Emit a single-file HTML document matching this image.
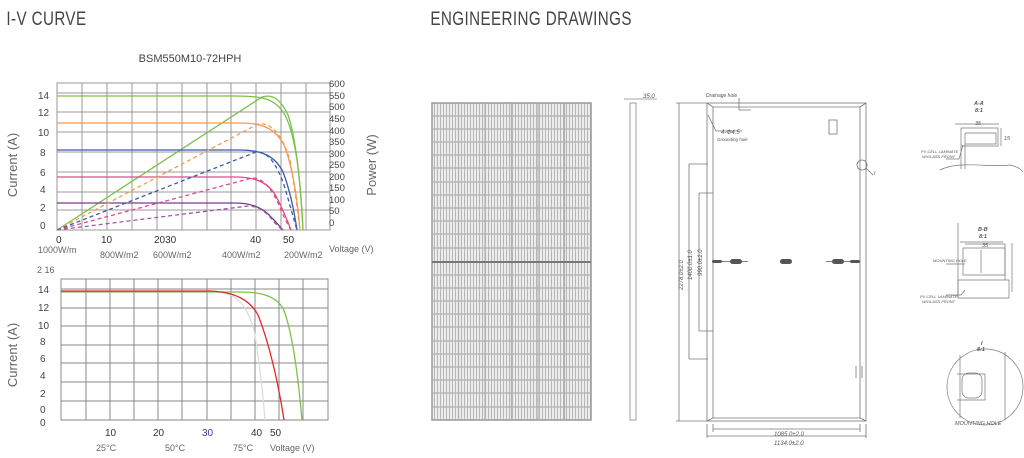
<!DOCTYPE html>
<html><head><meta charset="utf-8"><style>
body{margin:0;background:#fff;width:1024px;height:458px;overflow:hidden}
svg{display:block;font-family:"Liberation Sans",sans-serif}
</style></head><body>
<svg width="1024" height="458" viewBox="0 0 1024 458" xmlns="http://www.w3.org/2000/svg">
<defs>
<pattern id="st" width="3" height="13.2" patternUnits="userSpaceOnUse" x="432" y="103">
<rect width="3" height="13.2" fill="#ececec"/><rect x="2" width="1" height="13.2" fill="#b8b8b8"/>
</pattern>
</defs>
<!-- titles -->
<text x="8" y="25" font-size="19" fill="#444" transform="scale(0.8,1)" style="letter-spacing:0.5px">I-V CURVE</text>
<text x="538" y="25" font-size="19" fill="#444" transform="scale(0.8,1)" style="letter-spacing:0.5px">ENGINEERING DRAWINGS</text>
<text x="190" y="62" font-size="11" fill="#444" text-anchor="middle">BSM550M10-72HPH</text>

<!-- TOP CHART -->
<g stroke="#9a9a9a" stroke-width="1">
<rect x="57" y="83" width="273" height="147" fill="none"/>
<path d="M82 83V230M107 83V230M132 83V230M157 83V230M182 83V230M207 83V230M231 83V230M256 83V230M281 83V230M306 83V230"/>
<path d="M57 93H330M57 112H330M57 132H330M57 152H330M57 172H330M57 192H330M57 210H330"/>
</g>
<g font-size="10" fill="#444">
<text x="38" y="99">14</text><text x="38" y="116">12</text><text x="38" y="136">10</text><text x="40" y="156">8</text><text x="40" y="176">6</text><text x="40" y="193">4</text><text x="40" y="211">2</text><text x="40" y="229">0</text>
</g>
<g font-size="9.5" fill="#444">
<text x="329" y="87">600</text><text x="329" y="99">550</text><text x="329" y="110">500</text><text x="329" y="122">450</text><text x="329" y="134">400</text><text x="329" y="145">350</text><text x="329" y="157">300</text><text x="329" y="168">250</text><text x="329" y="180">200</text><text x="329" y="191">150</text><text x="329" y="203">100</text><text x="329" y="214">50</text><text x="329" y="226">0</text>
</g>
<text transform="translate(17,165) rotate(-90)" font-size="13" fill="#666" text-anchor="middle">Current (A)</text>
<text transform="translate(376,165) rotate(-90)" font-size="13" fill="#666" text-anchor="middle">Power (W)</text>
<g font-size="10" fill="#333">
<text x="56" y="243">0</text><text x="101" y="243">10</text><text x="154" y="243">2030</text><text x="250" y="243">40</text><text x="283" y="243">50</text>
</g>
<g font-size="9" fill="#666">
<text x="329" y="252">Voltage (V)</text>
<text x="38" y="253">1000W/m</text><text x="100" y="258">800W/m2</text><text x="153" y="258">600W/m2</text><text x="222" y="258">400W/m2</text><text x="284" y="258">200W/m2</text>
<text x="37" y="273">2 16</text>
</g>
<g fill="none" stroke-width="1.3">
<path d="M57 96H235C262 96 275 98 285 115C295 135 300 170 303 230" stroke="#7cc24a"/>
<path d="M57 230L262 97C272 94 280 98 288 115C295 135 300 175 303 230" stroke="#7cc24a"/>
<path d="M57 123H240C262 123 275 128 284 145C292 165 297 195 300 230" stroke="#f39a4c"/>
<path d="M57 150H240C262 150 275 156 283 172C290 190 294 210 297 230" stroke="#3a5ba8"/>
<path d="M57 177H235C258 177 270 184 277 198C284 212 288 222 291 230" stroke="#e04a8a"/>
<path d="M57 203H235C255 203 265 210 272 218C278 224 281 228 283 230" stroke="#7a3a8a"/>
<g stroke-dasharray="4 3">
<path d="M57 230L258 124C272 122 282 135 290 160C295 190 298 215 300 230" stroke="#f39a4c"/>
<path d="M57 230L256 152C268 151 277 165 284 185C290 205 294 220 297 230" stroke="#3a5ba8"/>
<path d="M57 230L252 178C264 178 272 190 279 205C284 218 288 225 291 230" stroke="#e04a8a"/>
<path d="M57 230L248 206C260 206 268 214 274 222C279 227 281 229 283 230" stroke="#9a5aa8"/>
</g>
</g>

<!-- BOTTOM CHART -->
<g stroke="#888" stroke-width="1">
<rect x="61" y="279" width="267" height="141" fill="none"/>
<path d="M86 279V420M110 279V420M134 279V420M158 279V420M182 279V420M207 279V420M231 279V420M255 279V420M279 279V420M303 279V420"/>
<path d="M61 289H328M61 308H328M61 326H328M61 345H328M61 363H328M61 382H328M61 401H328"/>
</g>
<g font-size="10" fill="#444">
<text x="38" y="293">14</text><text x="38" y="311">12</text><text x="38" y="329">10</text><text x="40" y="345">8</text><text x="40" y="362">6</text><text x="40" y="379">4</text><text x="40" y="397">2</text><text x="40" y="413">0</text><text x="40" y="426">0</text>
</g>
<text transform="translate(17,355) rotate(-90)" font-size="13" fill="#666" text-anchor="middle">Current (A)</text>
<g font-size="10" fill="#333">
<text x="105" y="436">10</text><text x="153" y="436">20</text><text x="202" y="436" fill="#3a3aa8">30</text><text x="251" y="436">40</text><text x="270" y="436">50</text>
</g>
<g font-size="9" fill="#666">
<text x="96" y="451">25°C</text><text x="165" y="451">50°C</text><text x="233" y="451">75°C</text><text x="270" y="451">Voltage (V)</text>
</g>
<g fill="none" stroke-width="1.3">
<path d="M207 291C235 292 245 300 254 330C260 365 263 395 265 420" stroke="#ddd"/>
<path d="M61 292H240C262 292 275 296 283 308C292 330 298 375 302 420" stroke="#7cc24a"/>
<path d="M61 291H210C235 292 250 300 258 315C268 340 278 380 284 420" stroke="#e02a2a"/>
</g>

<!-- PANEL FRONT -->
<rect x="432" y="103" width="159" height="317" fill="url(#st)" stroke="#999" stroke-width="1.5"/>
<g stroke="#b0b0b0" stroke-width="1.2">
<path d="M458.5 103V420M485 103V420M511.5 103V420M538 103V420M564.5 103V420"/>
<path d="M432 116H591M432 129H591M432 142H591M432 155H591M432 168H591M432 182H591M432 195H591M432 208H591M432 221H591M432 234H591M432 248H591M432 275H591M432 288H591M432 301H591M432 314H591M432 327H591M432 341H591M432 354H591M432 367H591M432 380H591M432 393H591M432 407H591"/>
</g>
<path d="M432 262H591" stroke="#777" stroke-width="2"/>

<!-- SIDE -->
<g fill="none" stroke="#888" stroke-width="0.8">
<rect x="630" y="103" width="6" height="317"/>
<path d="M624 99H640M636 99L657 99"/>
</g>
<text x="643" y="98" font-size="6" fill="#555" font-style="italic">35.0</text>

<!-- BACK VIEW -->
<g fill="none" stroke="#777" stroke-width="0.8">
<rect x="707" y="103" width="159" height="318"/>
<path d="M713 107V418H860V107M713 107L860 107"/>
<path d="M707 103L713 107M866 103L860 107M707 421L713 418M866 421L860 418"/>
<path d="M679 103V421M676 103H707M676 421H707"/>
<path d="M689 164V359M689 164H708M689 359H708M699 193V331M699 193H713M699 331H713"/>
<path d="M707 424V438M866 424V438M713 424V432M860 424V432M713 429H860M707 436H866"/>
<rect x="829" y="120" width="8" height="14"/>
<circle cx="862" cy="165" r="5"/>
<path d="M866 168L873 175"/>
<path d="M739 103V110H751M739 103L739 98"/>
<path d="M716 131L742 131M708 115L716 131"/>
<path d="M856 366V378M862 366V378"/>
</g>
<g fill="#555">
<rect x="712" y="260" width="10" height="3" rx="1.5"/>
<rect x="730" y="259" width="12" height="5" rx="2.5"/>
<rect x="780" y="259" width="12" height="5" rx="2.5"/>
<rect x="832" y="259" width="12" height="5" rx="2.5"/>
<rect x="850" y="260" width="10" height="3" rx="1.5"/>
<path d="M722 261.5H730M742 261.5H748M844 261.5H850M826 261.5H832" stroke="#555" stroke-width="0.8"/>
</g>
<g font-size="5" fill="#555" font-style="italic">
<text x="706" y="97">Drainage hole</text>
<text x="721" y="134" font-size="6">4-Φ4.5</text>
<text x="717" y="141" font-size="4.5">Grounding hole</text>
<text x="774" y="436" font-size="6">1085.0±2.0</text>
<text x="774" y="445" font-size="6">1134.0±2.0</text>
<text transform="translate(683,290) rotate(-90)" font-size="6">2278.0±2.0</text>
<text transform="translate(692,280) rotate(-90)" font-size="6">1400.0±1.0</text>
<text transform="translate(702,276) rotate(-90)" font-size="6">990.0±1.0</text>
<text x="874" y="175">I</text>
</g>

<!-- SECTIONS -->
<g fill="none" stroke="#777" stroke-width="0.7">
<path d="M940 170C960 160 990 168 1010 165C1015 166 1020 168 1023 172"/>
<path d="M961 128H998V146H961ZM965 133H996V144H965M961 128V169M965 133V169M955 124H999"/>
<path d="M1001 128V146"/>
<path d="M946 159H959L963 145"/>
<path d="M958 280H1009V298H958ZM963 248H1005V275H963ZM981 250V273"/>
<path d="M965 244H1005V280"/>
<path d="M958 223V298M960 242H1003M1012 243V292"/>
<path d="M946 264H965M946 295H961L965 290"/>
<circle cx="985" cy="387" r="38"/>
<path d="M960 355V418M1005 352V420"/>
<rect x="962" y="373" width="20" height="25" rx="7"/>
<path d="M957 374H985V400H957"/>
</g>
<g font-size="5.5" fill="#555" font-style="italic">
<text x="974" y="105" font-weight="bold">A-A</text><text x="975" y="112" font-weight="bold">8:1</text>
<text x="975" y="125">35</text><text x="1004" y="140">15</text>
<text x="921" y="153" font-size="4">PV-CELL LAMINATE</text><text x="922" y="158" font-size="4">W/GLASS FRONT</text>
<text x="978" y="231" font-weight="bold">B-B</text><text x="979" y="238" font-weight="bold">8:1</text>
<text x="982" y="247">35</text>
<text x="933" y="262" font-size="4">MOUNTING HOLE</text>
<text x="920" y="298" font-size="4">PV-CELL LAMINATE</text><text x="922" y="303" font-size="4">W/GLASS FRONT</text>
<text x="981" y="345" font-weight="bold">I</text><text x="977" y="351" font-weight="bold">8:1</text>
<text x="955" y="425">MOUNTING HOLE</text>
</g>
</svg>
</body></html>
